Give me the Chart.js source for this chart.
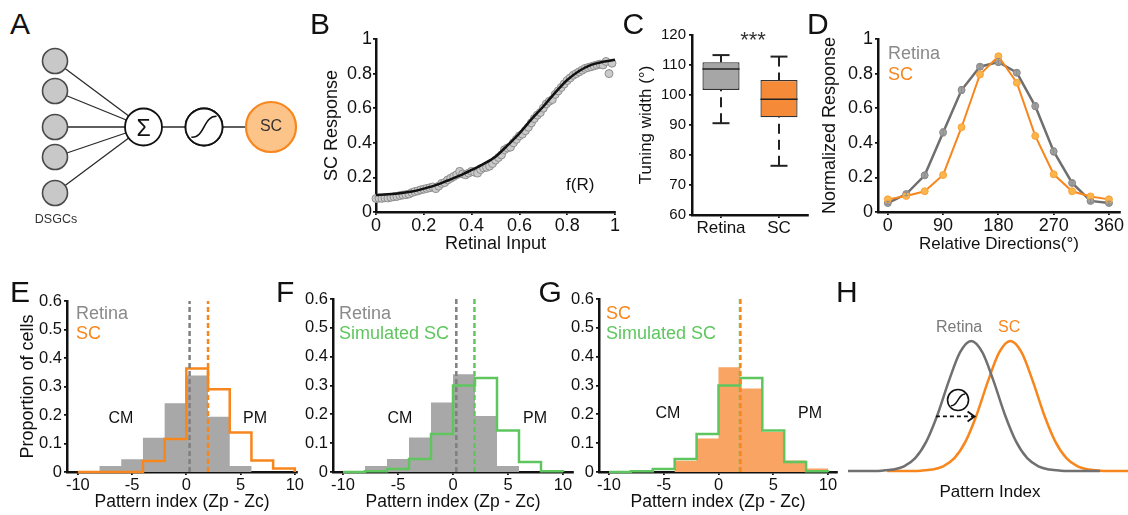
<!DOCTYPE html>
<html>
<head>
<meta charset="utf-8">
<script src="https://cdn.jsdelivr.net/npm/chart.js@4.4.0/dist/chart.umd.min.js"></script>
<style>
  html, body { margin: 0; padding: 0; background: #fff; }
  #fig { position: relative; width: 1128px; height: 515px; overflow: hidden;
         font-family: 'Liberation Sans', Arial, Helvetica, sans-serif; }
  #fig canvas { position: absolute; }
  .t { position: absolute; white-space: nowrap; line-height: 1; }
</style>
</head>
<body>
<div id="fig"></div>
<script>
// ---------------- data ----------------

// B: SC response vs retinal input
const retinalInput = [0, 0.0125, 0.025, 0.0375, 0.05, 0.0625, 0.075, 0.0875, 0.1, 0.1125,
  0.125, 0.1375, 0.15, 0.1625, 0.175, 0.1875, 0.2, 0.2125, 0.225, 0.2375,
  0.25, 0.2625, 0.275, 0.2875, 0.3, 0.3125, 0.325, 0.3375, 0.35, 0.3625,
  0.375, 0.3875, 0.4, 0.4125, 0.425, 0.4375, 0.45, 0.4625, 0.475, 0.4875,
  0.5, 0.5125, 0.525, 0.5375, 0.55, 0.5625, 0.575, 0.5875, 0.6, 0.6125,
  0.625, 0.6375, 0.65, 0.6625, 0.675, 0.6875, 0.7, 0.7125, 0.725, 0.7375,
  0.75, 0.7625, 0.775, 0.7875, 0.8, 0.8125, 0.825, 0.8375, 0.85, 0.8625,
  0.875, 0.8875, 0.9, 0.9125, 0.925, 0.9375, 0.95, 0.9625, 0.975, 0.9875];
const scResponse = [0.078, 0.080, 0.079, 0.082, 0.081, 0.085, 0.088, 0.090, 0.095, 0.098,
  0.100, 0.104, 0.112, 0.118, 0.122, 0.128, 0.132, 0.136, 0.140, 0.145,
  0.135, 0.150, 0.165, 0.170, 0.185, 0.195, 0.205, 0.215, 0.235, 0.220,
  0.215, 0.225, 0.235, 0.230, 0.225, 0.245, 0.255, 0.258, 0.265, 0.280,
  0.300, 0.315, 0.330, 0.360, 0.370, 0.375, 0.400, 0.420, 0.440, 0.450,
  0.470, 0.490, 0.515, 0.540, 0.560, 0.575, 0.600, 0.625, 0.640, 0.650,
  0.680, 0.700, 0.720, 0.740, 0.760, 0.775, 0.790, 0.800, 0.810, 0.820,
  0.830, 0.835, 0.840, 0.845, 0.850, 0.855, 0.850, 0.870, 0.800, 0.860];
const fitInput = [0, 0.05, 0.1, 0.15, 0.2, 0.25, 0.3, 0.35, 0.4, 0.45, 0.5,
  0.55, 0.6, 0.65, 0.7, 0.75, 0.8, 0.85, 0.9, 0.95, 1];
const fitResponse = [0.098, 0.102, 0.108, 0.118, 0.135, 0.155, 0.182, 0.21, 0.243, 0.278, 0.32,
  0.385, 0.455, 0.535, 0.61, 0.69, 0.763, 0.815, 0.85, 0.868, 0.88];
const unitTicks = [0, 0.2, 0.4, 0.6, 0.8, 1];

// C: tuning width box plots
const groups = ['Retina', 'SC'];
const widthHigh = [113.3, 112.8];
const widthQ3 = [110.9, 105.0];
const widthMedian = [108.7, 98.6];
const widthQ1 = [101.7, 92.6];
const widthLow = [90.6, 76.4];
const widthTicks = [60, 70, 80, 90, 100, 110, 120];

// D: direction tuning curves
const directions = [0, 30, 60, 90, 120, 150, 180, 210, 240, 270, 300, 330, 360];
const retinaTuning = [0.052, 0.104, 0.212, 0.46, 0.705, 0.84, 0.867, 0.805, 0.612, 0.35, 0.168, 0.064, 0.052];
const retinaSem = [0.01, 0.01, 0.015, 0.02, 0.02, 0.015, 0.02, 0.015, 0.02, 0.02, 0.015, 0.01, 0.01];
const scTuning = [0.073, 0.093, 0.12, 0.214, 0.49, 0.795, 0.90, 0.747, 0.44, 0.218, 0.12, 0.09, 0.073];
const directionTicks = [0, 90, 180, 270, 360];

// E-G: pattern index histograms (bins of width 2 from -10 to 10)
const binEdges = [-10, -8, -6, -4, -2, 0, 2, 4, 6, 8, 10];
const retinaProportion = [0, 0.021, 0.045, 0.12, 0.241, 0.339, 0.194, 0.021, 0, 0];
const scProportion = [0, 0, 0, 0.039, 0.116, 0.363, 0.29, 0.139, 0.04, 0.012];
const simulatedProportion = [0, 0.003, 0.01, 0.045, 0.132, 0.30, 0.326, 0.144, 0.035, 0.003];
const retinaMean = 0.3;
const scMean = 2.0;
const simulatedMean = 1.95;
const proportionTicks = [0, 0.1, 0.2, 0.3, 0.4, 0.5, 0.6];
const indexTicks = [-10, -5, 0, 5, 10];

// H: schematic distributions
const hRetinaIndex = [0, 4, 8, 12, 16, 20, 24, 28, 32, 36, 40, 44, 48, 52, 56, 60, 64, 68, 72, 76, 80, 84, 88, 90];
const hRetina = [0, 0.0001, 0.0006, 0.0027, 0.011, 0.036, 0.099, 0.228, 0.435, 0.691, 0.912, 1,
  0.912, 0.691, 0.435, 0.228, 0.099, 0.036, 0.011, 0.0027, 0.0006, 0.0001, 0, 0];
const hScIndex = [14, 18, 22, 26, 30, 34, 38, 42, 46, 50, 54, 58, 62, 66, 70, 74, 78, 82, 86, 90, 94, 98, 100];
const hSc = [0, 0.0001, 0.0006, 0.0027, 0.011, 0.036, 0.099, 0.228, 0.435, 0.691, 0.912, 1,
  0.912, 0.691, 0.435, 0.228, 0.099, 0.036, 0.011, 0.0027, 0.0006, 0.0001, 0];

// ---------------- style ----------------
const FONT = "'Liberation Sans', Arial, Helvetica, sans-serif";
const INK = '#111';
const ORANGE = '#F7861C';
const ORANGE_FILL = '#F9A462';
const GREEN = '#5FC65F';
const GRAY_FILL = '#A8A8A8';
const GRAY_TEXT = '#8A8A8A';

Chart.defaults.font.family = FONT;
Chart.defaults.color = INK;
Chart.defaults.animation = false;
Chart.defaults.events = [];
Chart.defaults.layout.autoPadding = false;
Chart.defaults.plugins.legend.display = false;
Chart.defaults.plugins.tooltip.enabled = false;

const fig = document.getElementById('fig');

function makeCanvas(x, y, w, h) {
  const c = document.createElement('canvas');
  c.width = w; c.height = h;
  c.style.left = x + 'px'; c.style.top = y + 'px';
  c.style.width = w + 'px'; c.style.height = h + 'px';
  fig.appendChild(c);
  return c;
}

// text placed by its baseline
function text(str, x, baseline, size, color, align) {
  const d = document.createElement('div');
  d.className = 't';
  d.textContent = str;
  d.style.fontSize = size + 'px';
  d.style.color = color || INK;
  d.style.top = (baseline - 0.8465 * size) + 'px';
  d.style.left = x + 'px';
  if (align === 'center') d.style.transform = 'translateX(-50%)';
  fig.appendChild(d);
}

const xy = (xs, ys) => xs.map((x, i) => ({ x: x, y: ys[i] }));

// outline of a histogram as a stepped path over the bin edges
function stepPath(edges, values) {
  const pts = [{ x: edges[0], y: 0 }];
  values.forEach((v, i) => pts.push({ x: edges[i], y: v }));
  pts.push({ x: edges[edges.length - 1], y: 0 });
  return pts;
}

function axis(o) {
  const cfg = {
    type: o.type || 'linear',
    position: o.horizontal ? 'bottom' : 'left',
    grid: { display: true, drawOnChartArea: false, drawTicks: true, tickLength: 3,
            color: INK, lineWidth: 1.8, offset: false },
    border: { display: true, color: INK, width: 2.5 },
    ticks: { font: { size: o.font }, color: INK, padding: o.pad, autoSkip: false,
             maxRotation: 0, minRotation: 0 },
    title: o.title ? { display: true, text: o.title, font: { size: o.titleSize },
                       color: INK, padding: 0 } : { display: false },
    afterFit: s => { if (o.horizontal) s.height = o.size; else s.width = o.size; }
  };
  if (o.min !== undefined) { cfg.min = o.min; cfg.max = o.max; }
  if (o.tickValues) {
    cfg.afterBuildTicks = s => { s.ticks = o.tickValues.map(v => ({ value: v })); };
    cfg.ticks.callback = v => String(v);
  }
  return cfg;
}

// box = canvas rectangle, area = plot rectangle (page pixels)
function framed(box, area) {
  return {
    canvas: makeCanvas(box.x, box.y, box.w, box.h),
    padding: { left: 0, top: area.t - box.y, right: box.x + box.w - area.r, bottom: 0 },
    yw: area.l - box.x,
    xh: box.y + box.h - area.b
  };
}

function baseOptions(padding, scales) {
  return { responsive: false, devicePixelRatio: 1, layout: { padding: padding, autoPadding: false }, scales: scales };
}

function sigmoidGlyph(ctx, cx, cy, r, lw) {
  ctx.save();
  ctx.beginPath();
  ctx.arc(cx, cy, r, 0, Math.PI * 2);
  ctx.fillStyle = '#fff';
  ctx.fill();
  ctx.lineWidth = lw;
  ctx.strokeStyle = INK;
  ctx.stroke();
  ctx.beginPath();
  ctx.moveTo(cx - 0.68 * r, cy + 0.55 * r);
  ctx.bezierCurveTo(cx + 0.05 * r, cy + 0.6 * r, cx - 0.05 * r, cy - 0.6 * r, cx + 0.68 * r, cy - 0.58 * r);
  ctx.lineWidth = lw * 0.9;
  ctx.stroke();
  ctx.restore();
}

// ---------------- A: model schematic ----------------
(function () {
  const inputX = 55, inputY = [61, 91, 127, 157, 193];
  const sum = { x: 143.5, y: 127 }, sig = { x: 204, y: 127 }, out = { x: 271, y: 127 };
  const c = makeCanvas(0, 40, 310, 200);
  const edges = inputY.map(y => ({
    data: [{ x: inputX, y: y }, { x: sum.x, y: sum.y }],
    borderColor: '#2a2a2a', borderWidth: 1.3, pointRadius: 0, order: 2, clip: false
  }));
  edges.push({ data: [sum, sig, out], borderColor: '#2a2a2a', borderWidth: 1.3,
               pointRadius: 0, order: 2, clip: false });
  const nodes = {
    data: inputY.map(y => ({ x: inputX, y: y })).concat([sum, sig, out]),
    showLine: false, order: 0, clip: false,
    pointRadius: [12.5, 12.5, 12.5, 12.5, 12.5, 18.5, 18.5, 25],
    pointBackgroundColor: ['#C8C8C8', '#C8C8C8', '#C8C8C8', '#C8C8C8', '#C8C8C8', '#fff', '#fff', '#FDC48A'],
    pointBorderColor: ['#4a4a4a', '#4a4a4a', '#4a4a4a', '#4a4a4a', '#4a4a4a', INK, INK, ORANGE],
    pointBorderWidth: [1.6, 1.6, 1.6, 1.6, 1.6, 1.8, 1.8, 2.2]
  };
  new Chart(c, {
    type: 'line',
    data: { datasets: edges.concat([nodes]) },
    options: {
      responsive: false, devicePixelRatio: 1,
      layout: { padding: 0, autoPadding: false },
      scales: { x: { type: 'linear', display: false, min: 0, max: 310 },
                y: { type: 'linear', display: false, min: 40, max: 240, reverse: true } }
    },
    plugins: [{
      id: 'sigmoidNode',
      afterDatasetsDraw(chart) {
        const { x, y } = chart.scales;
        sigmoidGlyph(chart.ctx, x.getPixelForValue(sig.x), y.getPixelForValue(sig.y), 18.5, 1.8);
      }
    }]
  });
})();

// ---------------- B: transfer function ----------------
(function () {
  const f = framed({ x: 321, y: 20, w: 314, h: 235 }, { l: 376, t: 39, r: 615, b: 212 });
  new Chart(f.canvas, {
    type: 'line',
    data: { datasets: [
      { data: xy(fitInput, fitResponse), borderColor: INK, borderWidth: 2.5, pointRadius: 0,
        cubicInterpolationMode: 'monotone', order: 0, clip: false },
      { data: xy(retinalInput, scResponse), showLine: false, pointRadius: 4,
        pointBackgroundColor: '#CACACA', pointBorderColor: '#8E8E8E', pointBorderWidth: 1,
        order: 1, clip: false }
    ] },
    options: baseOptions(f.padding, {
      x: axis({ horizontal: true, min: 0, max: 1, tickValues: unitTicks, font: 18, pad: 0,
                size: f.xh, title: 'Retinal Input', titleSize: 18 }),
      y: axis({ min: 0, max: 1, tickValues: unitTicks, font: 18, pad: 1,
                size: f.yw, title: 'SC Response', titleSize: 18 })
    })
  });
})();

// ---------------- C: tuning width ----------------
(function () {
  const f = framed({ x: 636, y: 15, w: 190, h: 230 }, { l: 692, t: 35, r: 808, b: 215 });
  new Chart(f.canvas, {
    type: 'bar',
    data: { labels: groups, datasets: [{
      data: widthQ1.map((q, i) => [q, widthQ3[i]]),
      backgroundColor: ['#A6A6A6', '#F58B38'],
      borderColor: '#333', borderWidth: 1.3, borderSkipped: false,
      barPercentage: 0.64, categoryPercentage: 1
    }] },
    options: baseOptions(f.padding, {
      x: axis({ type: 'category', horizontal: true, font: 17, pad: 0, size: f.xh }),
      y: axis({ min: 60, max: 120, tickValues: widthTicks, font: 15, pad: 3,
                size: f.yw, title: 'Tuning width (°)', titleSize: 17 })
    }),
    plugins: [{
      id: 'whiskers',
      afterDatasetsDraw(chart) {
        const ctx = chart.ctx, y = chart.scales.y;
        const seg = (x1, y1, x2, y2) => { ctx.beginPath(); ctx.moveTo(x1, y1); ctx.lineTo(x2, y2); ctx.stroke(); };
        ctx.save();
        ctx.strokeStyle = '#222';
        chart.getDatasetMeta(0).data.forEach((bar, i) => {
          const cx = bar.x, hw = bar.width / 2, cap = 8.5;
          ctx.setLineDash([]);
          ctx.lineWidth = 1.5;
          seg(cx - hw, y.getPixelForValue(widthMedian[i]), cx + hw, y.getPixelForValue(widthMedian[i]));
          ctx.lineWidth = 2;
          ctx.setLineDash([10, 6]);
          seg(cx, y.getPixelForValue(widthHigh[i]), cx, y.getPixelForValue(widthQ3[i]));
          seg(cx, y.getPixelForValue(widthLow[i]), cx, y.getPixelForValue(widthQ1[i]));
          ctx.setLineDash([]);
          seg(cx - cap, y.getPixelForValue(widthHigh[i]), cx + cap, y.getPixelForValue(widthHigh[i]));
          seg(cx - cap, y.getPixelForValue(widthLow[i]), cx + cap, y.getPixelForValue(widthLow[i]));
        });
        ctx.restore();
      }
    }]
  });
})();

// ---------------- D: direction tuning ----------------
(function () {
  const f = framed({ x: 819, y: 20, w: 309, h: 235 }, { l: 878, t: 39, r: 1120, b: 212 });
  new Chart(f.canvas, {
    type: 'line',
    data: { datasets: [
      { data: xy(directions, retinaTuning), borderColor: '#6F6F6F', borderWidth: 2.5,
        pointRadius: 3.5, pointBackgroundColor: '#A0A0A0', pointBorderColor: '#888',
        pointBorderWidth: 1, order: 1, clip: false },
      { data: xy(directions, scTuning), borderColor: ORANGE, borderWidth: 2,
        pointRadius: 3.5, pointBackgroundColor: '#FCB54A', pointBorderColor: '#F9A23C',
        pointBorderWidth: 1, order: 0, clip: false }
    ] },
    options: baseOptions(f.padding, {
      x: axis({ horizontal: true, min: -16, max: 378, tickValues: directionTicks, font: 18, pad: 0,
                size: f.xh, title: 'Relative Directions(°)', titleSize: 17 }),
      y: axis({ min: 0, max: 1, tickValues: unitTicks, font: 18, pad: 2,
                size: f.yw, title: 'Normalized Response', titleSize: 18 })
    }),
    plugins: [{
      id: 'errorBars',
      afterDatasetsDraw(chart) {
        const ctx = chart.ctx, { x, y } = chart.scales;
        ctx.save();
        ctx.strokeStyle = '#8C8C8C';
        ctx.lineWidth = 1;
        directions.forEach((d, i) => {
          const px = x.getPixelForValue(d);
          const lo = y.getPixelForValue(retinaTuning[i] - retinaSem[i]);
          const hi = y.getPixelForValue(retinaTuning[i] + retinaSem[i]);
          ctx.beginPath();
          ctx.moveTo(px, lo); ctx.lineTo(px, hi);
          ctx.moveTo(px - 2, lo); ctx.lineTo(px + 2, lo);
          ctx.moveTo(px - 2, hi); ctx.lineTo(px + 2, hi);
          ctx.stroke();
        });
        ctx.restore();
      }
    }]
  });
})();

// ---------------- E-G: pattern index histograms ----------------
function meanLine(x, color, alpha) {
  return { data: [{ x: x, y: 0 }, { x: x, y: 0.6 }], borderColor: color, borderWidth: 2.5,
           borderDash: [5, 3], pointRadius: 0, clip: false, order: 0,
           ...(alpha ? { borderColor: color + alpha } : {}) };
}
function filledHist(values, color, order) {
  return { data: stepPath(binEdges, values), stepped: true, fill: 'origin',
           backgroundColor: color, borderColor: 'rgba(0,0,0,0)', borderWidth: 1,
           pointRadius: 0, clip: false, order: order };
}
function outlineHist(values, color, order) {
  return { data: stepPath(binEdges, values), stepped: true, fill: false,
           borderColor: color, borderWidth: 2.5, pointRadius: 0, clip: false, order: order };
}
function histChart(box, area, xmin, xmax, datasets, yTitle) {
  const f = framed(box, area);
  new Chart(f.canvas, {
    type: 'line',
    data: { datasets: datasets },
    options: baseOptions(f.padding, {
      x: axis({ horizontal: true, min: xmin, max: xmax, tickValues: indexTicks, font: 16.5, pad: 1,
                size: f.xh, title: 'Pattern index (Zp - Zc)', titleSize: 17.5 }),
      y: axis({ min: 0, max: 0.6, tickValues: proportionTicks, font: 16.5, pad: 2,
                size: f.yw, title: yTitle, titleSize: 18 })
    })
  });
}

histChart({ x: 17, y: 285, w: 290, h: 228 }, { l: 67, t: 301, r: 297, b: 472 }, -11, 10.2, [
  filledHist(retinaProportion, GRAY_FILL, 3),
  outlineHist(scProportion, ORANGE, 2),
  meanLine(retinaMean, '#808080'),
  meanLine(scMean, ORANGE)
], 'Proportion of cells');

histChart({ x: 290, y: 285, w: 300, h: 228 }, { l: 333, t: 299, r: 573, b: 472 }, -10.91, 10.91, [
  filledHist(retinaProportion, GRAY_FILL, 3),
  outlineHist(simulatedProportion, GREEN, 2),
  meanLine(retinaMean, '#808080'),
  meanLine(simulatedMean, GREEN)
]);

histChart({ x: 555, y: 285, w: 295, h: 228 }, { l: 599, t: 299, r: 837, b: 472 }, -10.91, 10.82, [
  filledHist(scProportion, ORANGE_FILL, 3),
  outlineHist(simulatedProportion, GREEN, 2),
  meanLine(scMean, ORANGE),
  meanLine(simulatedMean, GREEN, '8C')
]);

// ---------------- H: schematic shift ----------------
(function () {
  const c = makeCanvas(840, 330, 288, 150);
  new Chart(c, {
    type: 'line',
    data: { datasets: [
      { data: xy(hRetinaIndex, hRetina), borderColor: '#707070', borderWidth: 2.5, pointRadius: 0,
        cubicInterpolationMode: 'monotone', clip: false },
      { data: xy(hScIndex, hSc), borderColor: ORANGE, borderWidth: 2.5, pointRadius: 0,
        cubicInterpolationMode: 'monotone', clip: false }
    ] },
    options: {
      responsive: false, devicePixelRatio: 1,
      layout: { padding: { left: 8, right: 0, top: 11, bottom: 9 }, autoPadding: false },
      scales: { x: { type: 'linear', display: false, min: 0, max: 100 },
                y: { type: 'linear', display: false, min: 0, max: 1 } }
    },
    plugins: [{
      id: 'shiftArrow',
      afterDatasetsDraw(chart) {
        const ctx = chart.ctx, { x, y } = chart.scales;
        sigmoidGlyph(ctx, x.getPixelForValue(39.3), y.getPixelForValue(0.546), 10.5, 1.6);
        const x1 = x.getPixelForValue(31.4), x2 = x.getPixelForValue(45.2), py = y.getPixelForValue(0.42);
        ctx.save();
        ctx.strokeStyle = INK;
        ctx.lineWidth = 1.8;
        ctx.setLineDash([4, 3]);
        ctx.beginPath(); ctx.moveTo(x1, py); ctx.lineTo(x2 - 1, py); ctx.stroke();
        ctx.setLineDash([]);
        ctx.beginPath();
        ctx.moveTo(x2 - 7, py - 5); ctx.lineTo(x2, py); ctx.lineTo(x2 - 7, py + 5);
        ctx.stroke();
        ctx.restore();
      }
    }]
  });
})();

// ---------------- text ----------------
[['A', 10, 34], ['B', 310, 34], ['C', 622.5, 34], ['D', 807, 34],
 ['E', 10, 302], ['F', 276, 302], ['G', 538.5, 302], ['H', 836, 302]]
  .forEach(p => text(p[0], p[1], p[2], 30, INK));

text('DSGCs', 56, 224, 12.5, '#333', 'center');
text('Σ', 143.5, 136.5, 23, INK, 'center');
text('SC', 271, 131.7, 16, '#333', 'center');
text('f(R)', 566, 190.5, 17, INK);
text('***', 753, 47.5, 22, '#333', 'center');

text('Retina', 888, 59.3, 18, GRAY_TEXT);
text('SC', 888, 80, 18, ORANGE);

text('Retina', 76, 319.3, 18, GRAY_TEXT);
text('SC', 76, 339.3, 18, ORANGE);
text('CM', 121, 424, 16, INK, 'center');
text('PM', 255, 424, 16, INK, 'center');

text('Retina', 339, 319.3, 18, GRAY_TEXT);
text('Simulated SC', 339, 339.3, 18, GREEN);
text('CM', 400, 424, 16, INK, 'center');
text('PM', 535, 424, 16, INK, 'center');

text('SC', 606, 319.3, 18, ORANGE);
text('Simulated SC', 606, 339.3, 18, GREEN);
text('CM', 668, 419, 16, INK, 'center');
text('PM', 810, 419, 16, INK, 'center');

text('Retina', 936, 333, 16, '#7A7A7A');
text('SC', 998, 333, 16, ORANGE);
text('Pattern Index', 990, 497, 17, INK, 'center');
</script>
</body>
</html>
